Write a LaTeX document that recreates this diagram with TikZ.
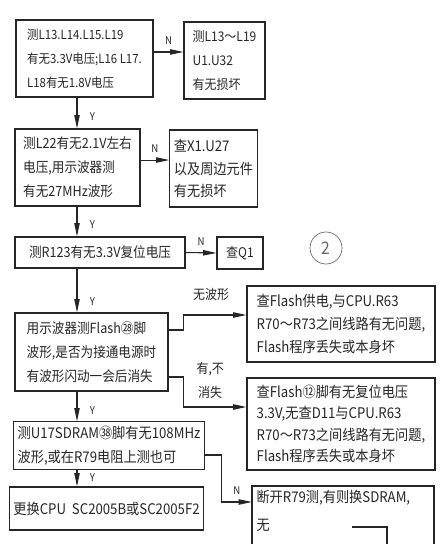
\documentclass[tikz,border=0pt]{standalone}
\usepackage{fontspec}
\setmainfont{Noto Sans CJK SC}[FakeStretch=0.9]
\usetikzlibrary{positioning, arrows.meta}

\begin{document}
\begin{tikzpicture}[x=0.75pt, y=-0.75pt, line width=0.8pt, color=black!85,
  box/.style={draw, align=left, inner sep=3pt, font=\fontsize{10}{18}\selectfont},
  bigbox/.style={box, font=\fontsize{11}{17}\selectfont},
  arr/.style={-{Triangle[length=10pt,width=4pt]}},
  lbl/.style={font=\fontsize{8}{9}\selectfont},
  tag/.style={font=\fontsize{10}{18}\selectfont, align=center}]
\useasboundingbox (0,0) rectangle (448,544);
\clip (0,0) rectangle (448,544);
\coordinate (trunk) at (77,0);
\node[box, minimum width=102.75pt, minimum height=57.75pt, font=\fontsize{9.5}{18}\selectfont] (b1) at (84.5,58.5) {测L13.L14.L15.L19\\有无3.3V电压;L16 L17.\\L18有无1.8V电压};
\node[box, minimum width=60.75pt, minimum height=57.75pt] (b2) at (224.5,60.5) {测L13～L19\\U1.U32\\有无损坏};
\node[box, minimum width=93.75pt, minimum height=57.75pt, font=\fontsize{10.5}{18}\selectfont] (b3) at (77.5,167.5) {测L22有无2.1V左右\\电压,用示波器测\\有无27MHz波形};
\node[bigbox, minimum width=63.75pt, minimum height=57.75pt] (b4) at (213.5,168.5) {查X1.U27\\以及周边元件\\有无损坏};
\node[box, minimum width=127.5pt, minimum height=23.25pt, font=\fontsize{10.5}{18}\selectfont] (b5) at (100,252.5) {测R123有无3.3V复位电压};
\node[box, minimum width=34.5pt, minimum height=24pt] (b6) at (240,253) {查Q1};
\node[circle, draw, line width=0.5pt, minimum size=24pt, color=black!60, font=\fontsize{13}{13}\selectfont] (num) at (326,248) {2};
\node[box, minimum width=114.75pt, minimum height=58.5pt, font=\fontsize{10.5}{18}\selectfont] (b7) at (91.5,352) {用示波器测Flash㉘脚\\波形,是否为接通电源时\\有波形闪动一会后消失};
\node[bigbox, minimum width=141pt, minimum height=57pt] (b8) at (341,324) {查Flash供电,与CPU.R63\\R70～R73之间线路有无问题,\\Flash程序丢失或本身坏};
\node[bigbox, minimum width=141pt, minimum height=69pt, font=\fontsize{11}{16}\selectfont] (b9) at (341,424) {查Flash⑫脚有无复位电压\\3.3V,无查D11与CPU.R63\\R70～R73之间线路有无问题,\\Flash程序丢失或本身坏};
\node[bigbox, minimum width=141pt, minimum height=33.75pt, font=\fontsize{11}{18}\selectfont] (b10) at (109,445.5) {测U17SDRAM㊳脚有无108MHz\\波形,或在R79电阻上测也可};
\node[bigbox, minimum width=137.25pt, minimum height=32.25pt] (b12) at (106.5,508.5) {更换CPU\ \ SC2005B或SC2005F2};
\node[bigbox, draw=none, anchor=north west, font=\fontsize{11}{21}\selectfont] (b11) at (252,486) {断开R79测,有则换SDRAM,\\无};
\draw (b11.north west) rectangle ++(182,100);
\draw (352,527) -- (387,527) -- (387,550);

\draw[arr] (b1.south -| trunk) -- (b3.north -| trunk) node[lbl, pos=0.6, right=6pt] {Y};
\draw[arr] ([yshift=4.9pt]b1.east) -- ([yshift=4.9pt]b1.east -| b2.west) node[lbl, midway, above=2pt] {N};
\draw[arr] (b3.south -| trunk) -- (b5.north -| trunk) node[lbl, pos=0.6, right=6pt] {Y};
\draw[arr] ([yshift=5.6pt]b3.east) -- ([yshift=5.6pt]b3.east -| b4.west) node[lbl, midway, above=2pt] {N};
\draw[arr] (b5.east) -- (b6.west) node[lbl, midway, above=2pt] {N};
\draw[arr] (b5.south -| trunk) -- (b7.north -| trunk) node[lbl, pos=0.75, right=6pt] {Y};
\draw[arr] ([yshift=16.5pt]b7.east) -- ++(15,0) |- ([yshift=6.75pt]b8.west) node[tag, pos=0.72, above=7pt] {无波形};
\draw[arr] ([yshift=-18.75pt]b7.east) -- ++(15,0) |- ([yshift=12.75pt]b9.west) node[tag, pos=0.05, right=6pt] {有,不\\消失};
\draw[arr] (b7.south -| trunk) -- (b10.north -| trunk) node[lbl, pos=0.65, right=6pt] {Y};
\draw[arr] ([yshift=-7.1pt]b10.east) -- ++(17,0) |- ([yshift=-12pt]b11.north west) node[lbl, pos=0.75, above=2pt] {N};
\draw[arr] (b10.south -| trunk) -- (b12.north -| trunk) node[lbl, pos=0.5, right=6pt] {Y};
\end{tikzpicture}
\end{document}
